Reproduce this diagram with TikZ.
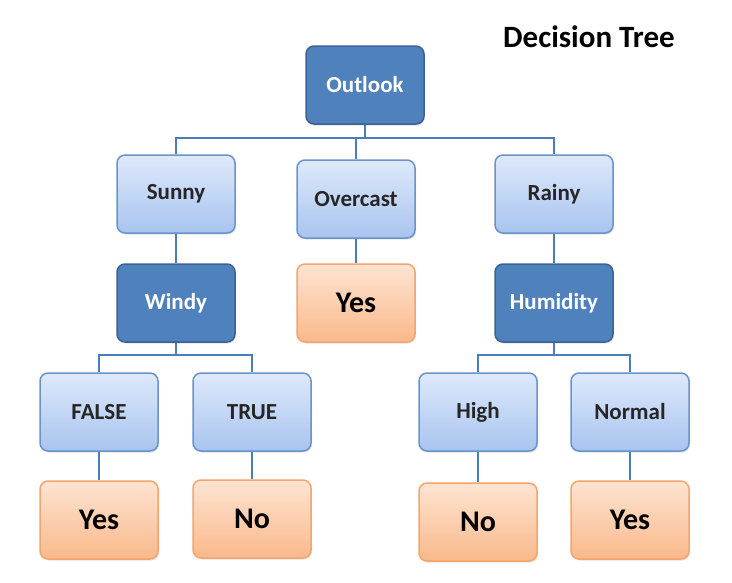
\documentclass[tikz,border=0pt]{standalone}
\usepackage{fontspec}
\setmainfont{Carlito}
\usetikzlibrary{shadows}
\definecolor{dkfill}{HTML}{4F81BD}
\definecolor{dkdraw}{HTML}{3A6296}
\definecolor{ltTop}{HTML}{DEE9FB}
\definecolor{ltBot}{HTML}{A8C4EF}
\definecolor{ltdraw}{HTML}{6A93C8}
\definecolor{orTop}{HTML}{FEE4D2}
\definecolor{orBot}{HTML}{F9B98B}
\definecolor{ordraw}{HTML}{F5A46C}
\definecolor{linec}{HTML}{4A7EBB}
\definecolor{txt}{HTML}{262626}
\tikzset{
  box/.style={minimum width=118pt, minimum height=78pt, rounded corners=8pt,
    line width=1.5pt, inner sep=0pt,
    drop shadow={shadow xshift=1pt, shadow yshift=-1.5pt, opacity=0.22}},
  dark/.style={box, fill=dkfill, draw=dkdraw, text=white, font=\fontsize{23}{25}\selectfont\bfseries},
  light/.style={box, top color=ltTop, bottom color=ltBot, draw=ltdraw, text=txt, font=\fontsize{23}{25}\selectfont\bfseries},
  leaf/.style={box, top color=orTop, bottom color=orBot, draw=ordraw, text=black, font=\fontsize{30}{32}\selectfont\bfseries},
  conn/.style={draw=linec, line width=1.8pt}
}
\begin{document}
\begin{tikzpicture}[x=1pt,y=-1pt]
\useasboundingbox (0,0) rectangle (732,582);
\node[font=\fontsize{31}{33}\selectfont\bfseries, text=black] (title) at (589,37) {Decision Tree};
\node[dark] (outlook) at (365,85) {Outlook};
\node[light] (sunny) at (176,194) {Sunny};
\node[light] (overcast) at (356,199) {Overcast};
\node[light] (rainy) at (554,194) {Rainy};
\node[dark] (windy) at (176,303) {Windy};
\node[leaf] (yes1) at (356,303) {Yes};
\node[dark] (humidity) at (554,303) {Humidity};
\node[light] (false) at (99,412) {FALSE};
\node[light] (true) at (252,412) {TRUE};
\node[light] (high) at (478,412) {High};
\node[light] (normal) at (630,412) {Normal};
\node[leaf] (yes2) at (99,520) {Yes};
\node[leaf] (no1) at (252,519) {No};
\node[leaf] (no2) at (478,522) {No};
\node[leaf] (yes3) at (630,520) {Yes};
\coordinate (b1) at (365,138);
\coordinate (b2) at (176,355);
\coordinate (b3) at (554,355);
\draw[conn] (outlook.south) -- (b1);
\draw[conn] (sunny.north) -- (sunny.north |- b1) -- (rainy.north |- b1) -- (rainy.north);
\draw[conn] (overcast.north) -- (overcast.north |- b1);
\draw[conn] (sunny.south) -- (windy.north);
\draw[conn] (overcast.south) -- (yes1.north);
\draw[conn] (rainy.south) -- (humidity.north);
\draw[conn] (windy.south) -- (b2);
\draw[conn] (false.north) -- (false.north |- b2) -- (true.north |- b2) -- (true.north);
\draw[conn] (humidity.south) -- (b3);
\draw[conn] (high.north) -- (high.north |- b3) -- (normal.north |- b3) -- (normal.north);
\draw[conn] (false.south) -- (yes2.north);
\draw[conn] (true.south) -- (no1.north);
\draw[conn] (high.south) -- (no2.north);
\draw[conn] (normal.south) -- (yes3.north);
\end{tikzpicture}
\end{document}
